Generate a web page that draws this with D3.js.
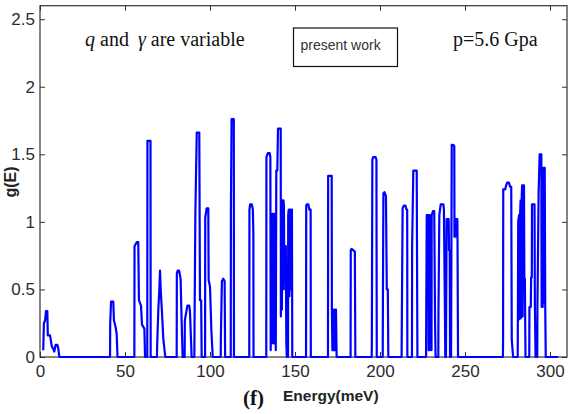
<!DOCTYPE html>
<html>
<head>
<meta charset="utf-8">
<script src="https://cdnjs.cloudflare.com/ajax/libs/d3/7.8.5/d3.min.js"></script>
<style>
body { margin: 0; background: #fff; }
svg { display: block; }
</style>
</head>
<body>
<div id="chart"></div>
<script>
var xTicks = [0, 50, 100, 150, 200, 250, 300];
var yTicks = [0, 0.5, 1, 1.5, 2, 2.5];
var yTickLabels = ["0", "0.5", "1", "1.5", "2", "2.5"];

// g(E), one array per group of bands: [energy (meV), g(E)]
var bandLow = [
    [1.9, 0.05], [2.3, 0.25], [3.0, 0.27], [3.5, 0.34], [4.3, 0.34], [4.6, 0.16], [5.9, 0.16],
    [6.3, 0.13], [6.9, 0.08], [7.8, 0.06], [8.4, 0.04], [9.2, 0.09], [10.2, 0.09], [10.8, 0.06],
    [11.4, 0], [41.2, 0], [41.3, 0.25], [41.8, 0.41], [43.1, 0.41], [43.5, 0.27], [44.5, 0.22],
    [45.1, 0.17], [45.6, 0]
];
var band55to95 = [
    [55.5, 0], [55.6, 0.82], [56.9, 0.85], [57.8, 0.85], [58.2, 0.42], [58.8, 0.40], [59.4, 0.38],
    [60.0, 0.24], [61.4, 0.21], [61.8, 0],
    [63.1, 0], [63.2, 1.60], [65.0, 1.60], [65.1, 0],
    [68.8, 0], [68.9, 0.08], [69.6, 0.35], [70.2, 0.50], [70.6, 0.64], [71.0, 0.50], [71.8, 0.32],
    [72.5, 0.14], [73.1, 0.07], [73.7, 0],
    [80.4, 0], [80.5, 0.62], [81.0, 0.64], [81.8, 0.64], [82.7, 0.58], [83.3, 0.27], [83.9, 0],
    [85.1, 0], [85.2, 0.27], [86.7, 0.38], [87.8, 0.38], [88.2, 0.34], [89.2, 0],
    [90.8, 0], [90.9, 0.25], [91.4, 1.07], [92.2, 1.66], [93.7, 1.66], [94.1, 0.42], [94.8, 0.42], [95.1, 0]
];
var band97to126 = [
    [97.1, 0], [97.2, 1.03], [98.0, 1.10], [99.0, 1.10], [99.2, 0.57], [100.0, 0.52], [100.8, 0.20], [101.6, 0],
    [106.3, 0], [106.4, 0.15], [107.0, 0.56], [107.8, 0.58], [108.6, 0.56], [108.9, 0],
    [112.2, 0], [112.3, 1.09], [112.7, 1.76], [114.0, 1.76], [114.1, 0],
    [123.1, 0], [123.2, 1.09], [123.6, 1.13], [124.6, 1.13], [125.2, 1.09], [125.5, 0.92], [125.6, 0]
];
var band133to160 = [
    [133.1, 0], [133.2, 1.48], [134.1, 1.51], [135.1, 1.51], [135.5, 1.48], [135.7, 0.05],
    [136.0, 1.00], [136.3, 0.10], [136.6, 1.06], [136.9, 0.15], [137.2, 1.06], [137.5, 0.10],
    [137.8, 1.06], [138.1, 0.20], [138.4, 1.06], [138.7, 0.05], [139.0, 1.38], [139.6, 1.38],
    [140.0, 1.69], [141.6, 1.69], [141.7, 0.30], [142.0, 1.16], [142.3, 0.35], [142.6, 1.16],
    [142.9, 0.50], [143.2, 1.16], [143.5, 1.12], [143.7, 0.60], [144.0, 0.82], [144.3, 0.50],
    [144.6, 0.82], [144.9, 0.10], [145.2, 0], [145.9, 0], [146.0, 1.05], [146.3, 1.09],
    [146.7, 0.45], [147.0, 1.09], [147.3, 0.50], [147.6, 1.09], [147.9, 0.55], [148.2, 1.09], [148.4, 0],
    [156.5, 0], [156.6, 1.12], [156.9, 1.13], [157.8, 1.13], [158.5, 1.09], [159.2, 1.09], [159.3, 0]
];
var band169to222 = [
    [169.4, 0], [169.5, 1.34], [171.6, 1.34], [171.7, 0.35], [172.0, 0.05], [172.3, 0.35],
    [172.6, 0.05], [172.9, 0.35], [173.2, 0.05], [173.5, 0.35], [173.8, 0.05], [174.1, 0.35], [174.5, 0],
    [182.7, 0], [182.8, 0.79], [183.3, 0.80], [185.2, 0.78], [185.5, 0],
    [195.1, 0], [195.2, 0.07], [195.5, 1.46], [196.0, 1.48], [197.4, 1.48], [197.9, 1.46], [198.1, 0],
    [201.6, 0], [201.7, 0.37], [202.0, 1.21], [202.6, 1.22], [203.5, 1.19], [204.0, 0.50], [204.6, 0.50], [204.9, 0],
    [212.7, 0], [212.8, 0.18], [213.3, 1.10], [214.0, 1.12], [215.0, 1.12], [215.6, 1.09], [216.0, 1.09], [216.1, 0],
    [218.8, 0], [218.9, 0.82], [219.6, 1.38], [221.6, 1.38], [222.0, 0]
];
var band227to246 = [
    [227.1, 0], [227.2, 0.32], [227.5, 1.05], [228.4, 1.05], [228.6, 0.05], [228.8, 0.79],
    [229.1, 0.05], [229.4, 1.05], [229.7, 0.10], [230.0, 0.79], [230.3, 0.05], [230.4, 1.05],
    [231.2, 1.08], [231.9, 1.08], [232.4, 0.25], [232.7, 0],
    [234.3, 0], [234.4, 0.35], [234.9, 1.05], [235.7, 1.13], [237.3, 1.13], [237.6, 1.09], [238.2, 0.32], [238.4, 0],
    [238.8, 0], [238.9, 0.30], [239.2, 1.02], [240.4, 1.02], [240.6, 0.79], [241.0, 0.79], [241.2, 0],
    [241.8, 0], [241.9, 0.40], [242.2, 1.57], [243.1, 1.57], [243.7, 1.56], [243.8, 0.89],
    [244.0, 1.02], [244.3, 0.89], [244.6, 1.02], [245.5, 1.02], [245.6, 0.87], [245.9, 0]
];
var band272to305 = [
    [272.3, 0], [272.4, 0.13], [272.5, 1.24], [273.6, 1.24], [274.2, 1.27], [274.8, 1.29], [275.9, 1.29],
    [276.5, 1.26], [277.2, 1.26], [277.5, 0.13], [278.3, 0],
    [281.0, 0], [281.1, 0.28], [281.3, 1.00], [281.8, 1.05], [282.1, 0.28], [282.4, 1.05],
    [282.7, 1.16], [283.0, 0.29], [283.3, 1.16], [283.6, 1.27], [283.9, 0.30], [284.2, 1.27],
    [284.7, 1.27], [284.9, 0.58], [285.2, 0.58], [285.6, 0],
    [287.8, 0], [287.9, 0.37], [288.7, 0.37], [288.9, 0.59], [289.3, 0.59], [289.4, 1.13],
    [290.9, 1.13], [291.1, 0.40], [291.5, 0],
    [292.5, 0], [292.6, 0.37], [293.3, 1.21], [293.9, 1.50], [294.9, 1.50], [295.1, 0.37],
    [295.3, 1.40], [295.7, 0.37], [296.0, 1.40], [296.3, 0.40], [296.6, 1.40], [296.9, 1.40],
    [297.2, 0.37], [297.5, 0], [304.8, 0]
];

var svgWidth = 573, svgHeight = 414;
var plotLeft = 40, plotRight = 567, plotTop = 5.7, plotBottom = 357;

var svg = d3.select("#chart").append("svg")
    .attr("width", svgWidth)
    .attr("height", svgHeight);

var x = d3.scaleLinear().domain([0, 310]).range([plotLeft, plotRight]);
var y = d3.scaleLinear().domain([0, 2.6]).range([plotBottom, plotTop]);

var tickFont = "Liberation Sans, Arial, sans-serif";

//axes, MATLAB style ticks pointing inward on all four sides
var xAxisB = svg.append("g")
    .attr("transform", "translate(0," + plotBottom + ")")
    .call(d3.axisBottom(x).tickValues(xTicks).tickSize(-5).tickPadding(8).tickFormat(d3.format("d")));
var xAxisT = svg.append("g")
    .attr("transform", "translate(0," + plotTop + ")")
    .call(d3.axisTop(x).tickValues(xTicks).tickSize(-5).tickFormat(""));
var yAxisL = svg.append("g")
    .attr("transform", "translate(" + plotLeft + ",0)")
    .call(d3.axisLeft(y).tickValues(yTicks).tickSize(-5).tickPadding(5)
        .tickFormat(function (d, i) { return yTickLabels[i]; }));
var yAxisR = svg.append("g")
    .attr("transform", "translate(" + plotRight + ",0)")
    .call(d3.axisRight(y).tickValues(yTicks).tickSize(-5).tickFormat(""));

[xAxisB, xAxisT, yAxisL, yAxisR].forEach(function (g) {
    g.select(".domain").remove();
    g.selectAll(".tick line").attr("stroke", "#333").attr("stroke-width", 1);
    g.selectAll(".tick text")
        .attr("fill", "#2b2b2b")
        .style("font-family", tickFont)
        .style("font-size", "17px");
});

// frame
svg.append("rect")
    .attr("x", plotLeft)
    .attr("y", plotTop)
    .attr("width", plotRight - plotLeft)
    .attr("height", plotBottom - plotTop)
    .attr("fill", "none")
    .attr("stroke", "#333")
    .attr("stroke-width", 1.2);

// the g(E) curve
var allPoints = [].concat(bandLow, band55to95, band97to126, band133to160, band169to222, band227to246, band272to305);

var line = d3.line()
    .x(function (d) { return x(d[0]); })
    .y(function (d) { return y(d[1]); });

svg.append("path")
    .datum(allPoints)
    .attr("d", line)
    .attr("fill", "none")
    .attr("stroke", "#0000ff")
    .attr("stroke-width", 2.2)
    .attr("stroke-linejoin", "round");

// annotations
var serif = "Liberation Serif, Times New Roman, serif";
var ann = svg.append("text")
    .attr("x", 85)
    .attr("y", 46)
    .style("font-family", serif)
    .style("font-size", "20px")
    .attr("fill", "#111");
ann.append("tspan").style("font-style", "italic").text("q");
ann.append("tspan").text(" and ");
ann.append("tspan").attr("dx", 4).style("font-style", "italic").text("γ");
ann.append("tspan").text(" are variable");

svg.append("text")
    .attr("x", 453)
    .attr("y", 46)
    .style("font-family", serif)
    .style("font-size", "20px")
    .attr("fill", "#111")
    .text("p=5.6 Gpa");

svg.append("rect")
    .attr("x", 293.5)
    .attr("y", 28)
    .attr("width", 104)
    .attr("height", 38.5)
    .attr("fill", "#fff")
    .attr("stroke", "#111")
    .attr("stroke-width", 1.2);
svg.append("text")
    .attr("x", 300.5)
    .attr("y", 50)
    .style("font-family", tickFont)
    .style("font-size", "14px")
    .attr("fill", "#333")
    .text("present work");

// axis labels
svg.append("text")
    .attr("transform", "translate(16,182) rotate(-90)")
    .attr("text-anchor", "middle")
    .style("font-family", tickFont)
    .style("font-size", "16px")
    .style("font-weight", "bold")
    .attr("fill", "#222")
    .text("g(E)");

svg.append("text")
    .attr("x", 283)
    .attr("y", 401)
    .style("font-family", tickFont)
    .style("font-size", "15.5px")
    .style("font-weight", "bold")
    .attr("fill", "#222")
    .text("Energy(meV)");

svg.append("text")
    .attr("x", 243)
    .attr("y", 405)
    .style("font-family", serif)
    .style("font-size", "21px")
    .style("font-weight", "bold")
    .attr("fill", "#111")
    .text("(f)");
</script>
</body>
</html>
